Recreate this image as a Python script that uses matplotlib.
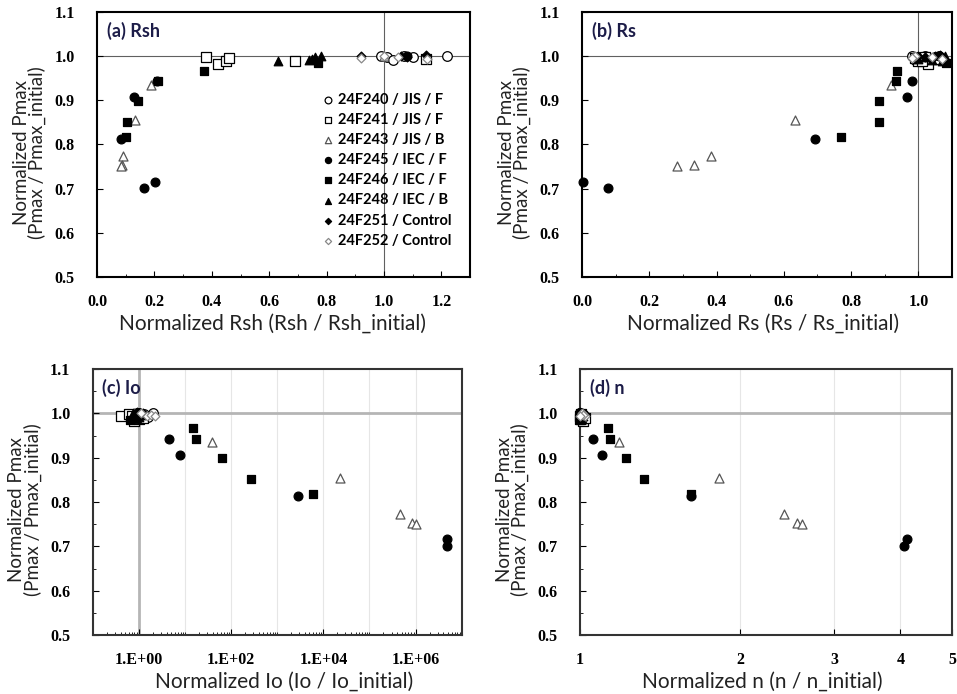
import matplotlib
matplotlib.use("Agg")
import matplotlib.pyplot as plt
from matplotlib.ticker import MultipleLocator, FixedLocator, FixedFormatter, LogLocator, NullFormatter, NullLocator

plt.rcParams['font.family'] = ['Lato', 'DejaVu Sans']
plt.rcParams['font.weight'] = 'bold'

labels = ["24F240 / JIS / F", "24F241 / JIS / F", "24F243 / JIS / B", "24F245 / IEC / F",
          "24F246 / IEC / F", "24F248 / IEC / B", "24F251 / Control", "24F252 / Control"]

# normalized Pmax per module
pmax_240 = [1.000, 0.998, 0.992, 1.000, 0.999, 1.000]
pmax_241 = [0.993, 0.998, 0.982, 0.988, 0.995, 0.989]
pmax_243 = [1.000, 0.935, 0.855, 0.774, 0.753, 0.751]
pmax_245 = [1.000, 0.943, 0.907, 0.813, 0.716, 0.701]
pmax_246 = [0.984, 0.966, 0.943, 0.899, 0.851, 0.818]
pmax_248 = [1.000, 0.988, 0.992, 0.997, 0.994]
pmax_251 = [1.000, 1.001, 1.003, 0.999]
pmax_252 = [1.000, 0.995, 0.997, 0.993]

# (a) normalized Rsh
rsh_240 = [0.99, 1.01, 1.03, 1.07, 1.10, 1.22]
rsh_241 = [1.145, 0.38, 0.42, 0.45, 0.46, 0.69]
rsh_243 = [1.00, 0.189, 0.133, 0.090, 0.086, 0.084]
rsh_245 = [1.08, 0.21, 0.129, 0.083, 0.203, 0.162]
rsh_246 = [0.77, 0.372, 0.214, 0.141, 0.106, 0.100]
rsh_248 = [0.78, 0.63, 0.74, 0.76, 0.75]
rsh_251 = [0.92, 1.06, 1.147, 1.08]
rsh_252 = [1.00, 0.92, 1.05, 1.15]

# (b) normalized Rs
rs_240 = [0.98, 1.00, 0.99, 1.02, 1.05, 1.06]
rs_241 = [1.06, 1.02, 1.03, 1.00, 0.99, 1.01]
rs_243 = [1.00, 0.918, 0.633, 0.383, 0.334, 0.281]
rs_245 = [1.06, 0.982, 0.965, 0.692, 0.004, 0.078]
rs_246 = [1.083, 0.935, 0.933, 0.883, 0.883, 0.770]
rs_248 = [1.08, 1.07, 1.04, 1.02, 1.00]
rs_251 = [1.00, 1.05, 1.065, 1.02]
rs_252 = [0.99, 0.98, 1.04, 1.07]

# (c) normalized Io
io_240 = [1.0, 1.3, 1.6, 2.0, 1.1, 0.9]
io_241 = [0.4, 0.6, 0.8, 1.0, 0.7, 1.2]
io_243 = [0.8, 38, 2.34e4, 4.7e5, 8.3e5, 1.0e6]
io_245 = [1.0, 4.5, 7.8, 2870, 4.9e6, 4.9e6]
io_246 = [0.65, 15, 17, 65, 276, 5850]
io_248 = [0.75, 0.9, 1.0, 1.1, 0.8]
io_251 = [1.0, 1.2, 0.9, 1.1]
io_252 = [1.1, 1.5, 1.8, 2.2]

# (d) normalized n
n_240 = [1.000, 1.010, 1.020, 1.000, 1.010, 1.000]
n_241 = [1.000, 1.005, 1.015, 1.000, 1.010, 1.020]
n_243 = [1.000, 1.185, 1.827, 2.42, 2.557, 2.613]
n_245 = [1.000, 1.059, 1.100, 1.617, 4.12, 4.06]
n_246 = [1.000, 1.127, 1.140, 1.220, 1.318, 1.613]
n_248 = [1.000, 1.010, 1.005, 1.000, 1.015]
n_251 = [1.000, 1.010, 1.000, 1.020]
n_252 = [1.010, 1.020, 1.015, 1.000]

pmax_all = [pmax_240, pmax_241, pmax_243, pmax_245, pmax_246, pmax_248, pmax_251, pmax_252]

markers = ['o', 's', '^', 'o', 's', '^', 'D', 'D']
faces = ['white', 'white', 'white', 'black', 'black', 'black', 'black', 'white']
edges = ['black', 'black', '#555555', 'black', 'black', 'black', 'black', '#888888']
sizes = [48, 42, 42, 40, 40, 38, 20, 20]

tick_font = 'Liberation Serif'


def draw_points(ax, xs_all, legend=False):
    for i, xs in enumerate(xs_all):
        ax.scatter(xs, pmax_all[i], marker=markers[i], s=sizes[i], facecolor=faces[i],
                   edgecolor=edges[i], linewidths=0.9, zorder=3, clip_on=False,
                   label=labels[i] if legend else None)


def style_axes(ax, thin=True):
    ax.set_ylim(0.5, 1.1)
    ax.set_yticks([0.5, 0.6, 0.7, 0.8, 0.9, 1.0, 1.1])
    ax.set_yticklabels(['0.5', '0.6', '0.7', '0.8', '0.9', '1.0', '1.1'])
    ax.tick_params(direction='in', labelsize=11.5, labelfontfamily=tick_font, pad=16, length=4,
                   which='major')
    ax.tick_params(direction='in', which='minor', length=2.5)
    ax.tick_params(axis='x', pad=12)
    for sp in ax.spines.values():
        sp.set_linewidth(1.5)
        sp.set_color('black' if thin else '#333333')


def add_texts(fig, ax, title, xlabel, xc):
    ax.text(0.026, 0.93, title, transform=ax.transAxes, fontsize=13, color='#1c1c48',
            ha='left', va='center', fontweight='bold')
    ax.set_xlabel(xlabel, fontsize=15, fontweight='normal', color='#222222')
    ax.xaxis.set_label_coords(xc, -0.175)
    ax.xaxis.label.set_va('center')
    bb = ax.get_position()
    yc = bb.y0 + bb.height * 0.47
    x1 = bb.x0 - 76 / 957
    x2 = bb.x0 - 60 / 957
    fig.text(x1, yc, "Normalized Pmax", rotation=90, ha='center', va='center',
             fontsize=13.5, fontweight='normal', color='#222222')
    fig.text(x2, yc, "(Pmax / Pmax_initial)", rotation=90, ha='center', va='center',
             fontsize=13.5, fontweight='normal', color='#222222')


fig = plt.figure(figsize=(9.57, 6.94), dpi=100)
ax_a = fig.add_axes([0.1014, 0.6009, 0.3898, 0.3818])
ax_b = fig.add_axes([0.6082, 0.6009, 0.3866, 0.3818])
ax_c = fig.add_axes([0.0969, 0.0850, 0.3856, 0.3833])
ax_d = fig.add_axes([0.6061, 0.0850, 0.3887, 0.3833])

# (a) Rsh
ax_a.axhline(1.0, color='#606060', lw=0.8, zorder=1)
ax_a.axvline(1.0, color='#606060', lw=0.8, zorder=1)
draw_points(ax_a, [rsh_240, rsh_241, rsh_243, rsh_245, rsh_246, rsh_248, rsh_251, rsh_252], legend=True)
style_axes(ax_a)
ax_a.set_xlim(0, 1.3)
ax_a.set_xticks([0.0, 0.2, 0.4, 0.6, 0.8, 1.0, 1.2])
ax_a.set_xticklabels(['0.0', '0.2', '0.4', '0.6', '0.8', '1.0', '1.2'])
ax_a.xaxis.set_minor_locator(MultipleLocator(0.1))
add_texts(fig, ax_a, "(a) Rsh", "Normalized Rsh (Rsh / Rsh_initial)", 0.47)
ax_a.legend(loc='upper left', bbox_to_anchor=(0.605, 0.695), frameon=False, fontsize=10.5,
            handlelength=0.7, handletextpad=0.35, labelspacing=0.42, borderpad=0,
            borderaxespad=0, markerscale=0.7)

# (b) Rs
ax_b.axhline(1.0, color='#606060', lw=0.8, zorder=1)
ax_b.axvline(1.0, color='#606060', lw=0.8, zorder=1)
draw_points(ax_b, [rs_240, rs_241, rs_243, rs_245, rs_246, rs_248, rs_251, rs_252])
style_axes(ax_b)
ax_b.set_xlim(0, 1.1)
ax_b.set_xticks([0.0, 0.2, 0.4, 0.6, 0.8, 1.0])
ax_b.set_xticklabels(['0.0', '0.2', '0.4', '0.6', '0.8', '1.0'])
ax_b.xaxis.set_minor_locator(MultipleLocator(0.1))
add_texts(fig, ax_b, "(b) Rs", "Normalized Rs (Rs / Rs_initial)", 0.49)

# (c) Io
ax_c.set_xscale('log')
ax_c.set_xlim(0.1, 1e7)
ax_c.axhline(1.0, color='#b5b5b5', lw=2, zorder=1)
ax_c.axvline(1.0, color='#b5b5b5', lw=2, zorder=1)
for d in [0.1, 10, 100, 1e3, 1e4, 1e5, 1e6]:
    ax_c.axvline(d, color='#e6e6e6', lw=0.8, zorder=0)
draw_points(ax_c, [io_240, io_241, io_243, io_245, io_246, io_248, io_251, io_252])
style_axes(ax_c, thin=False)
ax_c.xaxis.set_major_locator(FixedLocator([1, 1e2, 1e4, 1e6]))
ax_c.xaxis.set_major_formatter(FixedFormatter(['1.E+00', '1.E+02', '1.E+04', '1.E+06']))
ax_c.xaxis.set_minor_locator(LogLocator(base=10, subs=range(1, 10), numticks=20))
ax_c.xaxis.set_minor_formatter(NullFormatter())
ax_c.yaxis.set_minor_locator(MultipleLocator(0.05))
add_texts(fig, ax_c, "(c) Io", "Normalized Io (Io / Io_initial)", 0.52)

# (d) n
ax_d.set_xscale('log')
ax_d.set_xlim(1, 5)
ax_d.axhline(1.0, color='#b5b5b5', lw=2, zorder=1)
for g in [2, 3, 4]:
    ax_d.axvline(g, color='#e6e6e6', lw=0.8, zorder=0)
draw_points(ax_d, [n_240, n_241, n_243, n_245, n_246, n_248, n_251, n_252])
style_axes(ax_d, thin=False)
ax_d.xaxis.set_major_locator(FixedLocator([1, 2, 3, 4, 5]))
ax_d.xaxis.set_major_formatter(FixedFormatter(['1', '2', '3', '4', '5']))
ax_d.xaxis.set_minor_locator(NullLocator())
ax_d.yaxis.set_minor_locator(MultipleLocator(0.05))
add_texts(fig, ax_d, "(d) n", "Normalized n (n / n_initial)", 0.49)

fig.savefig("out.png", dpi=100)
